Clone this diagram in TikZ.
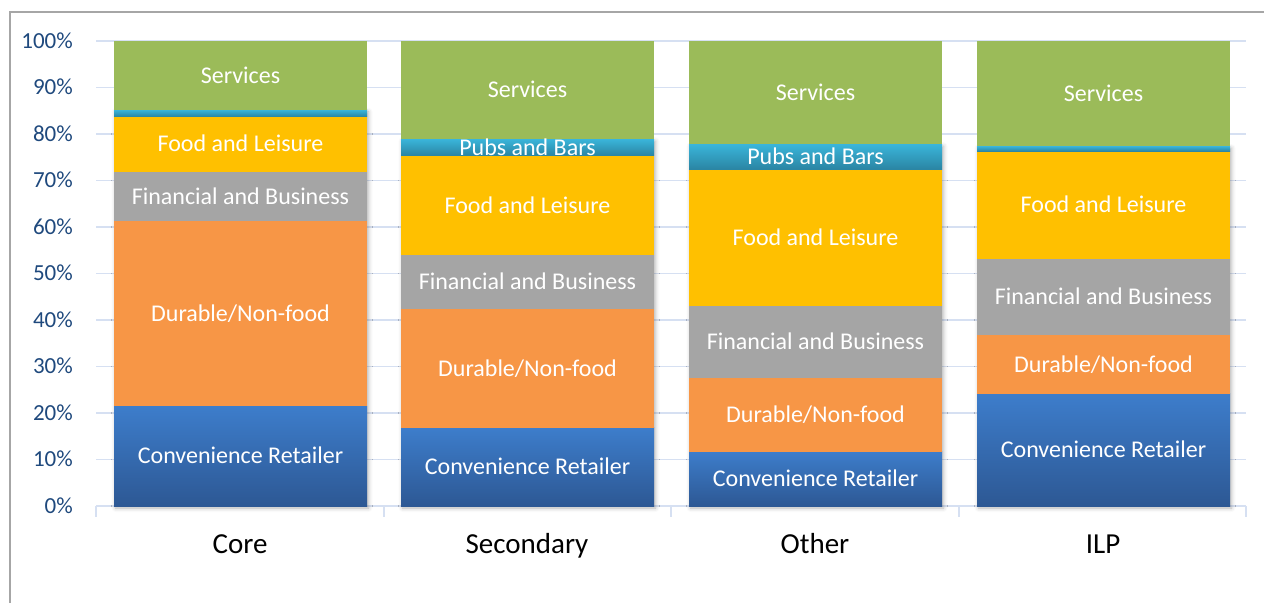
\documentclass[tikz,border=0pt]{standalone}
\usepackage{fontspec}
\setmainfont{Carlito}
\usetikzlibrary{shadows.blur}

\definecolor{services}{HTML}{9BBB59}
\definecolor{pubstop}{HTML}{3AB5DA}
\definecolor{pubsbot}{HTML}{2A84A2}
\definecolor{food}{HTML}{FFC000}
\definecolor{finance}{HTML}{A5A5A5}
\definecolor{durable}{HTML}{F79646}
\definecolor{convtop}{HTML}{3D7DCB}
\definecolor{convbot}{HTML}{2D5894}
\definecolor{gridblue}{HTML}{D6E0F2}
\definecolor{axistext}{HTML}{1F497D}
\definecolor{framegray}{HTML}{A6A6A6}

\begin{document}
\begin{tikzpicture}[x=1pt,y=-1pt,
        declare function={py(\v)=506-4.65*\v;},
        gridline/.style={draw=gridblue,line width=1.5pt},
        barshadow/.style={blur shadow={shadow xshift=1.5pt,shadow yshift=-2pt,shadow blur radius=4pt,shadow opacity=30}},
        conv/.style={top color=convtop,bottom color=convbot},
        pubs/.style={top color=pubstop,bottom color=pubsbot}]
        \useasboundingbox (0,0) rectangle (1264,603);
        \draw[framegray,line width=1.2pt] (10,603) -- (10,12) -- (1264,12);

        % value axis and grid
        \begin{scope}[every node/.style={text=axistext,font=\fontsize{23}{27}\selectfont,anchor=east,inner sep=0pt,text height=14.5pt,text depth=0pt}]
            \foreach \p in {0,10,...,100}{
                \draw[gridline] (96,{py(\p)}) -- (1246,{py(\p)});
                \node (tick\p) at (73,{py(\p)}) {\p\%};
            }
        \end{scope}
        \foreach \t in {96,384,671,959,1246}
            \draw[gridline] (\t,506) -- (\t,517);

        % bars
        \begin{scope}[every node/.style={text=white,font=\fontsize{24}{28}\selectfont,inner sep=0pt,text height=15.5pt,text depth=0pt}]
            \foreach \n/\L/\c/\d/\f/\o/\p in {core/114/21.5/61.3/71.9/83.7/85.2,
                    sec/401/16.8/42.3/54.0/75.3/78.9,
                    oth/689/11.7/27.6/43.1/72.3/77.8,
                    ilp/977/24.1/36.8/53.1/76.3/77.4}{
                \fill[white,barshadow] (\L,{py(\p)}) rectangle (\L+253,506);
                \fill[conv] (\L,506) rectangle (\L+253,{py(\c)});
                \fill[durable] (\L,{py(\c)}) rectangle (\L+253,{py(\d)});
                \fill[finance] (\L,{py(\d)}) rectangle (\L+253,{py(\f)});
                \fill[food] (\L,{py(\f)}) rectangle (\L+253,{py(\o)});
                \fill[pubs] (\L,{py(\o)}) rectangle (\L+253,{py(\p)});
                \fill[services] (\L,{py(\p)}) rectangle (\L+253,{py(100)});

                \node (conv\n) at (\L+126.5,{py(\c/2)}) {Convenience Retailer};
                \node (dur\n) at (\L+126.5,{py((\c+\d)/2)}) {Durable/Non-food};
                \node (fin\n) at (\L+126.5,{py((\d+\f)/2)}) {Financial and Business};
                \node (food\n) at (\L+126.5,{py((\f+\o)/2)}) {Food and Leisure};
                \node (serv\n) at (\L+126.5,{py((\p+100)/2)}) {Services};
            }
            \node (pubssec) at (527.5,{py((75.3+78.9)/2)}) {Pubs and Bars};
            \node (pubsoth) at (815.5,{py((72.3+77.8)/2)}) {Pubs and Bars};
        \end{scope}

        % categories
        \begin{scope}[every node/.style={font=\fontsize{29}{34}\selectfont,inner sep=0pt,text height=18.7pt,text depth=0pt}]
            \node (core) at (240,544) {Core};
            \node (secondary) at (527,544) {Secondary};
            \node (other) at (815,544) {Other};
            \node (ilp) at (1103,544) {ILP};
        \end{scope}
    \end{tikzpicture}
\end{document}
